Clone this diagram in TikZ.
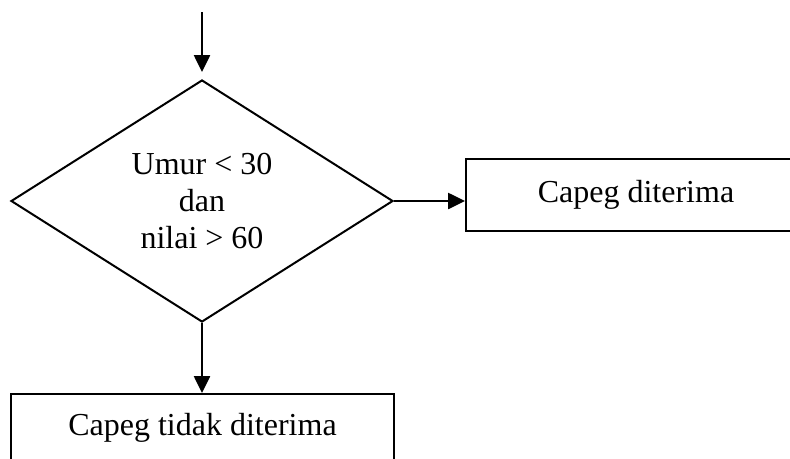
\documentclass[tikz,border=0pt]{standalone}
\usepackage{fontspec}
\usepackage{tikz}
\usetikzlibrary{shapes.geometric, arrows.meta, positioning}
\setmainfont{Liberation Serif}

\begin{document}
\begin{tikzpicture}[x=1pt, y=-1pt, font=\fontsize{32pt}{37pt}\selectfont]
            \clip (0,0) rectangle (790,458);
            \coordinate (start) at (202,12);
            \node[diamond, draw, line width=2pt, aspect=1.58, minimum width=382pt, minimum height=242pt, inner sep=0pt, align=center] (cek) at (202,201) {Umur < 30\\dan\\nilai > 60};
            \node[draw, line width=2pt, minimum width=340pt, minimum height=72pt, inner sep=0pt] (terima) at (636,195) {Capeg diterima};
            \node[draw, line width=2pt, minimum width=383pt, minimum height=68pt, inner sep=0pt] (tolak) at (202.5,428) {Capeg tidak diterima};
            \draw[-{Triangle[length=17pt, width=16pt]}, line width=2.6pt, shorten >=7pt] (start) -- (cek.north);
            \draw[-{Triangle[length=17pt, width=16pt]}, line width=2.6pt] (cek.east) -- (cek.east -| terima.west);
            \draw[-{Triangle[length=17pt, width=16pt]}, line width=2.6pt] (cek.south) -- (cek.south |- tolak.north);
        \end{tikzpicture}
\end{document}
